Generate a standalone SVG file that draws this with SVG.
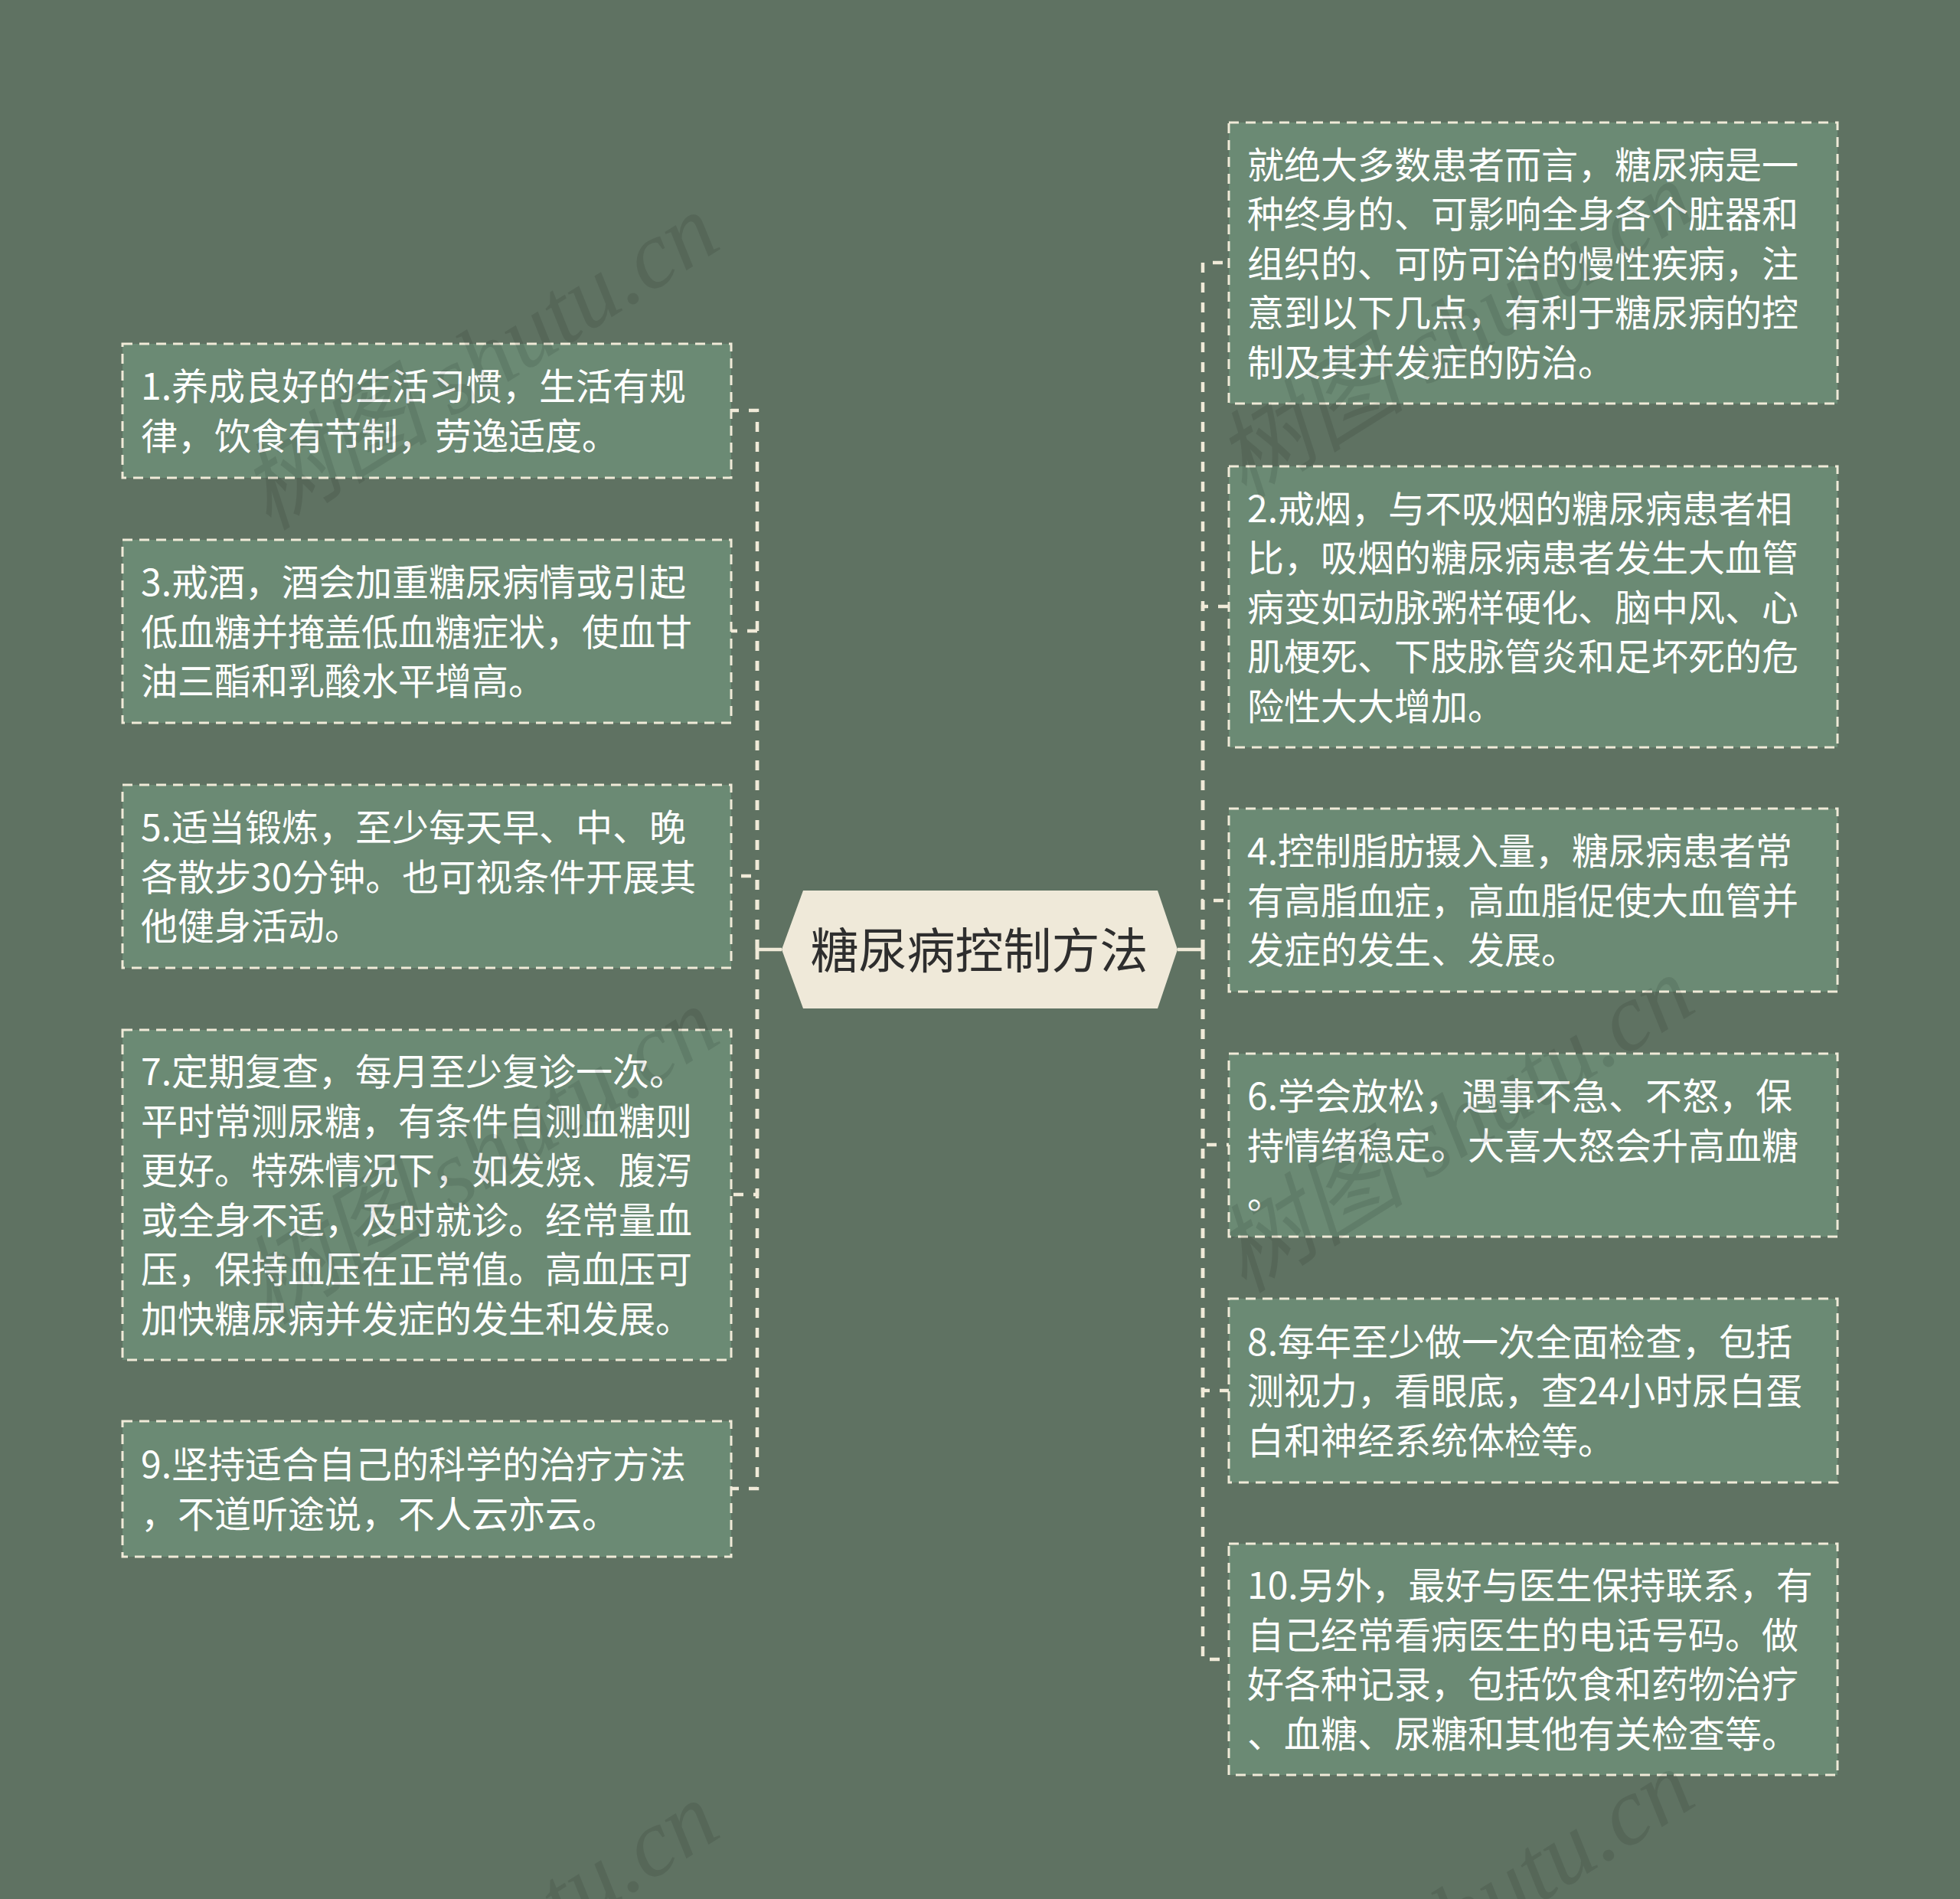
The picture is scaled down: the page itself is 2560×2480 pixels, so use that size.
<svg xmlns="http://www.w3.org/2000/svg" width="2560" height="2480" viewBox="0 0 2560 2480">
<style>
.box{fill:#6b8a74;stroke:#f0ead8;stroke-width:3;stroke-dasharray:13 9}
.t{font-family:"Noto Sans CJK SC","Noto Sans",sans-serif;font-size:48px;fill:#ffffff}
.conn{fill:none;stroke:#f0ead8;stroke-width:4.5;stroke-dasharray:13 13}
.solid{fill:none;stroke:#f0ead8;stroke-width:4.5}
.wm{font-family:"Liberation Serif","Noto Sans CJK SC",serif;font-size:125px;font-style:italic;fill:#000;opacity:0.09}
</style>
<rect x="0" y="0" width="2560" height="2480" fill="#5f7262"/>
<g id="connectors">
<path class="solid" d="M989 1240H1021"/>
<path class="solid" d="M1538 1240H1571"/>
<path class="conn" d="M989 1240V536H955"/>
<path class="conn" d="M989 1240V824H955"/>
<path class="conn" d="M989 1240V1144H955"/>
<path class="conn" d="M989 1240V1560H955"/>
<path class="conn" d="M989 1240V1944H955"/>
<path class="conn" d="M1571 1240V343H1605"/>
<path class="conn" d="M1571 1240V792H1605"/>
<path class="conn" d="M1571 1240V1176H1605"/>
<path class="conn" d="M1571 1240V1495H1605"/>
<path class="conn" d="M1571 1240V1816H1605"/>
<path class="conn" d="M1571 1240V2167H1605"/>
</g>
<g id="root">
<polygon points="1021,1240 1049,1163 1512,1163 1538,1240 1512,1317 1049,1317" fill="#efe9d9"/>
<text x="1279" y="1264" text-anchor="middle" font-family="Noto Sans CJK SC,sans-serif" font-size="63" fill="#2e2e2e">糖尿病控制方法</text>
</g>
<g id="n1">
<rect class="box" x="160" y="449" width="795" height="175"/>
<text class="t"><tspan x="184" y="522">1.养成良好的生活习惯，生活有规</tspan><tspan x="184" y="587">律，饮食有节制，劳逸适度。</tspan></text>
</g>
<g id="n3">
<rect class="box" x="160" y="705" width="795" height="239"/>
<text class="t"><tspan x="184" y="778">3.戒酒，酒会加重糖尿病情或引起</tspan><tspan x="184" y="842.5">低血糖并掩盖低血糖症状，使血甘</tspan><tspan x="184" y="907">油三酯和乳酸水平增高。</tspan></text>
</g>
<g id="n5">
<rect class="box" x="160" y="1025" width="795" height="239"/>
<text class="t"><tspan x="184" y="1098">5.适当锻炼，至少每天早、中、晚</tspan><tspan x="184" y="1162.5">各散步30分钟。也可视条件开展其</tspan><tspan x="184" y="1227">他健身活动。</tspan></text>
</g>
<g id="n7">
<rect class="box" x="160" y="1345" width="795" height="431"/>
<text class="t"><tspan x="184" y="1417">7.定期复查，每月至少复诊一次。</tspan><tspan x="184" y="1482">平时常测尿糖，有条件自测血糖则</tspan><tspan x="184" y="1546">更好。特殊情况下，如发烧、腹泻</tspan><tspan x="184" y="1611">或全身不适，及时就诊。经常量血</tspan><tspan x="184" y="1675">压，保持血压在正常值。高血压可</tspan><tspan x="184" y="1740">加快糖尿病并发症的发生和发展。</tspan></text>
</g>
<g id="n9">
<rect class="box" x="160" y="1856" width="795" height="177"/>
<text class="t"><tspan x="184" y="1930">9.坚持适合自己的科学的治疗方法</tspan><tspan x="184" y="1995">，不道听途说，不人云亦云。</tspan></text>
</g>
<g id="intro">
<rect class="box" x="1605" y="160" width="795" height="367"/>
<text class="t"><tspan x="1629" y="232.5">就绝大多数患者而言，糖尿病是一</tspan><tspan x="1629" y="297">种终身的、可影响全身各个脏器和</tspan><tspan x="1629" y="361.5">组织的、可防可治的慢性疾病，注</tspan><tspan x="1629" y="426">意到以下几点，有利于糖尿病的控</tspan><tspan x="1629" y="490.5">制及其并发症的防治。</tspan></text>
</g>
<g id="n2">
<rect class="box" x="1605" y="609" width="795" height="367"/>
<text class="t"><tspan x="1629" y="681.5">2.戒烟，与不吸烟的糖尿病患者相</tspan><tspan x="1629" y="746">比，吸烟的糖尿病患者发生大血管</tspan><tspan x="1629" y="810.5">病变如动脉粥样硬化、脑中风、心</tspan><tspan x="1629" y="875">肌梗死、下肢脉管炎和足坏死的危</tspan><tspan x="1629" y="939.5">险性大大增加。</tspan></text>
</g>
<g id="n4">
<rect class="box" x="1605" y="1056" width="795" height="239"/>
<text class="t"><tspan x="1629" y="1129">4.控制脂肪摄入量，糖尿病患者常</tspan><tspan x="1629" y="1193.5">有高脂血症，高血脂促使大血管并</tspan><tspan x="1629" y="1258">发症的发生、发展。</tspan></text>
</g>
<g id="n6">
<rect class="box" x="1605" y="1376" width="795" height="239"/>
<text class="t"><tspan x="1629" y="1449">6.学会放松，遇事不急、不怒，保</tspan><tspan x="1629" y="1513.5">持情绪稳定。大喜大怒会升高血糖</tspan><tspan x="1629" y="1578">。</tspan></text>
</g>
<g id="n8">
<rect class="box" x="1605" y="1696" width="795" height="240"/>
<text class="t"><tspan x="1629" y="1769.5">8.每年至少做一次全面检查，包括</tspan><tspan x="1629" y="1834">测视力，看眼底，查24小时尿白蛋</tspan><tspan x="1629" y="1898.5">白和神经系统体检等。</tspan></text>
</g>
<g id="n10">
<rect class="box" x="1605" y="2016" width="795" height="302"/>
<text class="t"><tspan x="1629" y="2088">10.另外，最好与医生保持联系，有</tspan><tspan x="1629" y="2153">自己经常看病医生的电话号码。做</tspan><tspan x="1629" y="2217">好各种记录，包括饮食和药物治疗</tspan><tspan x="1629" y="2282">、血糖、尿糖和其他有关检查等。</tspan></text>
</g>
<g id="watermarks">
<text class="wm" transform="translate(351 694) rotate(-32)">树图 shutu.cn</text>
<text class="wm" transform="translate(1625 653) rotate(-32)">树图 shutu.cn</text>
<text class="wm" transform="translate(351 1731) rotate(-32)">树图 shutu.cn</text>
<text class="wm" transform="translate(1625 1690) rotate(-32)">树图 shutu.cn</text>
<text class="wm" transform="translate(351 2768) rotate(-32)">树图 shutu.cn</text>
<text class="wm" transform="translate(1625 2727) rotate(-32)">树图 shutu.cn</text>
</g>
</svg>
